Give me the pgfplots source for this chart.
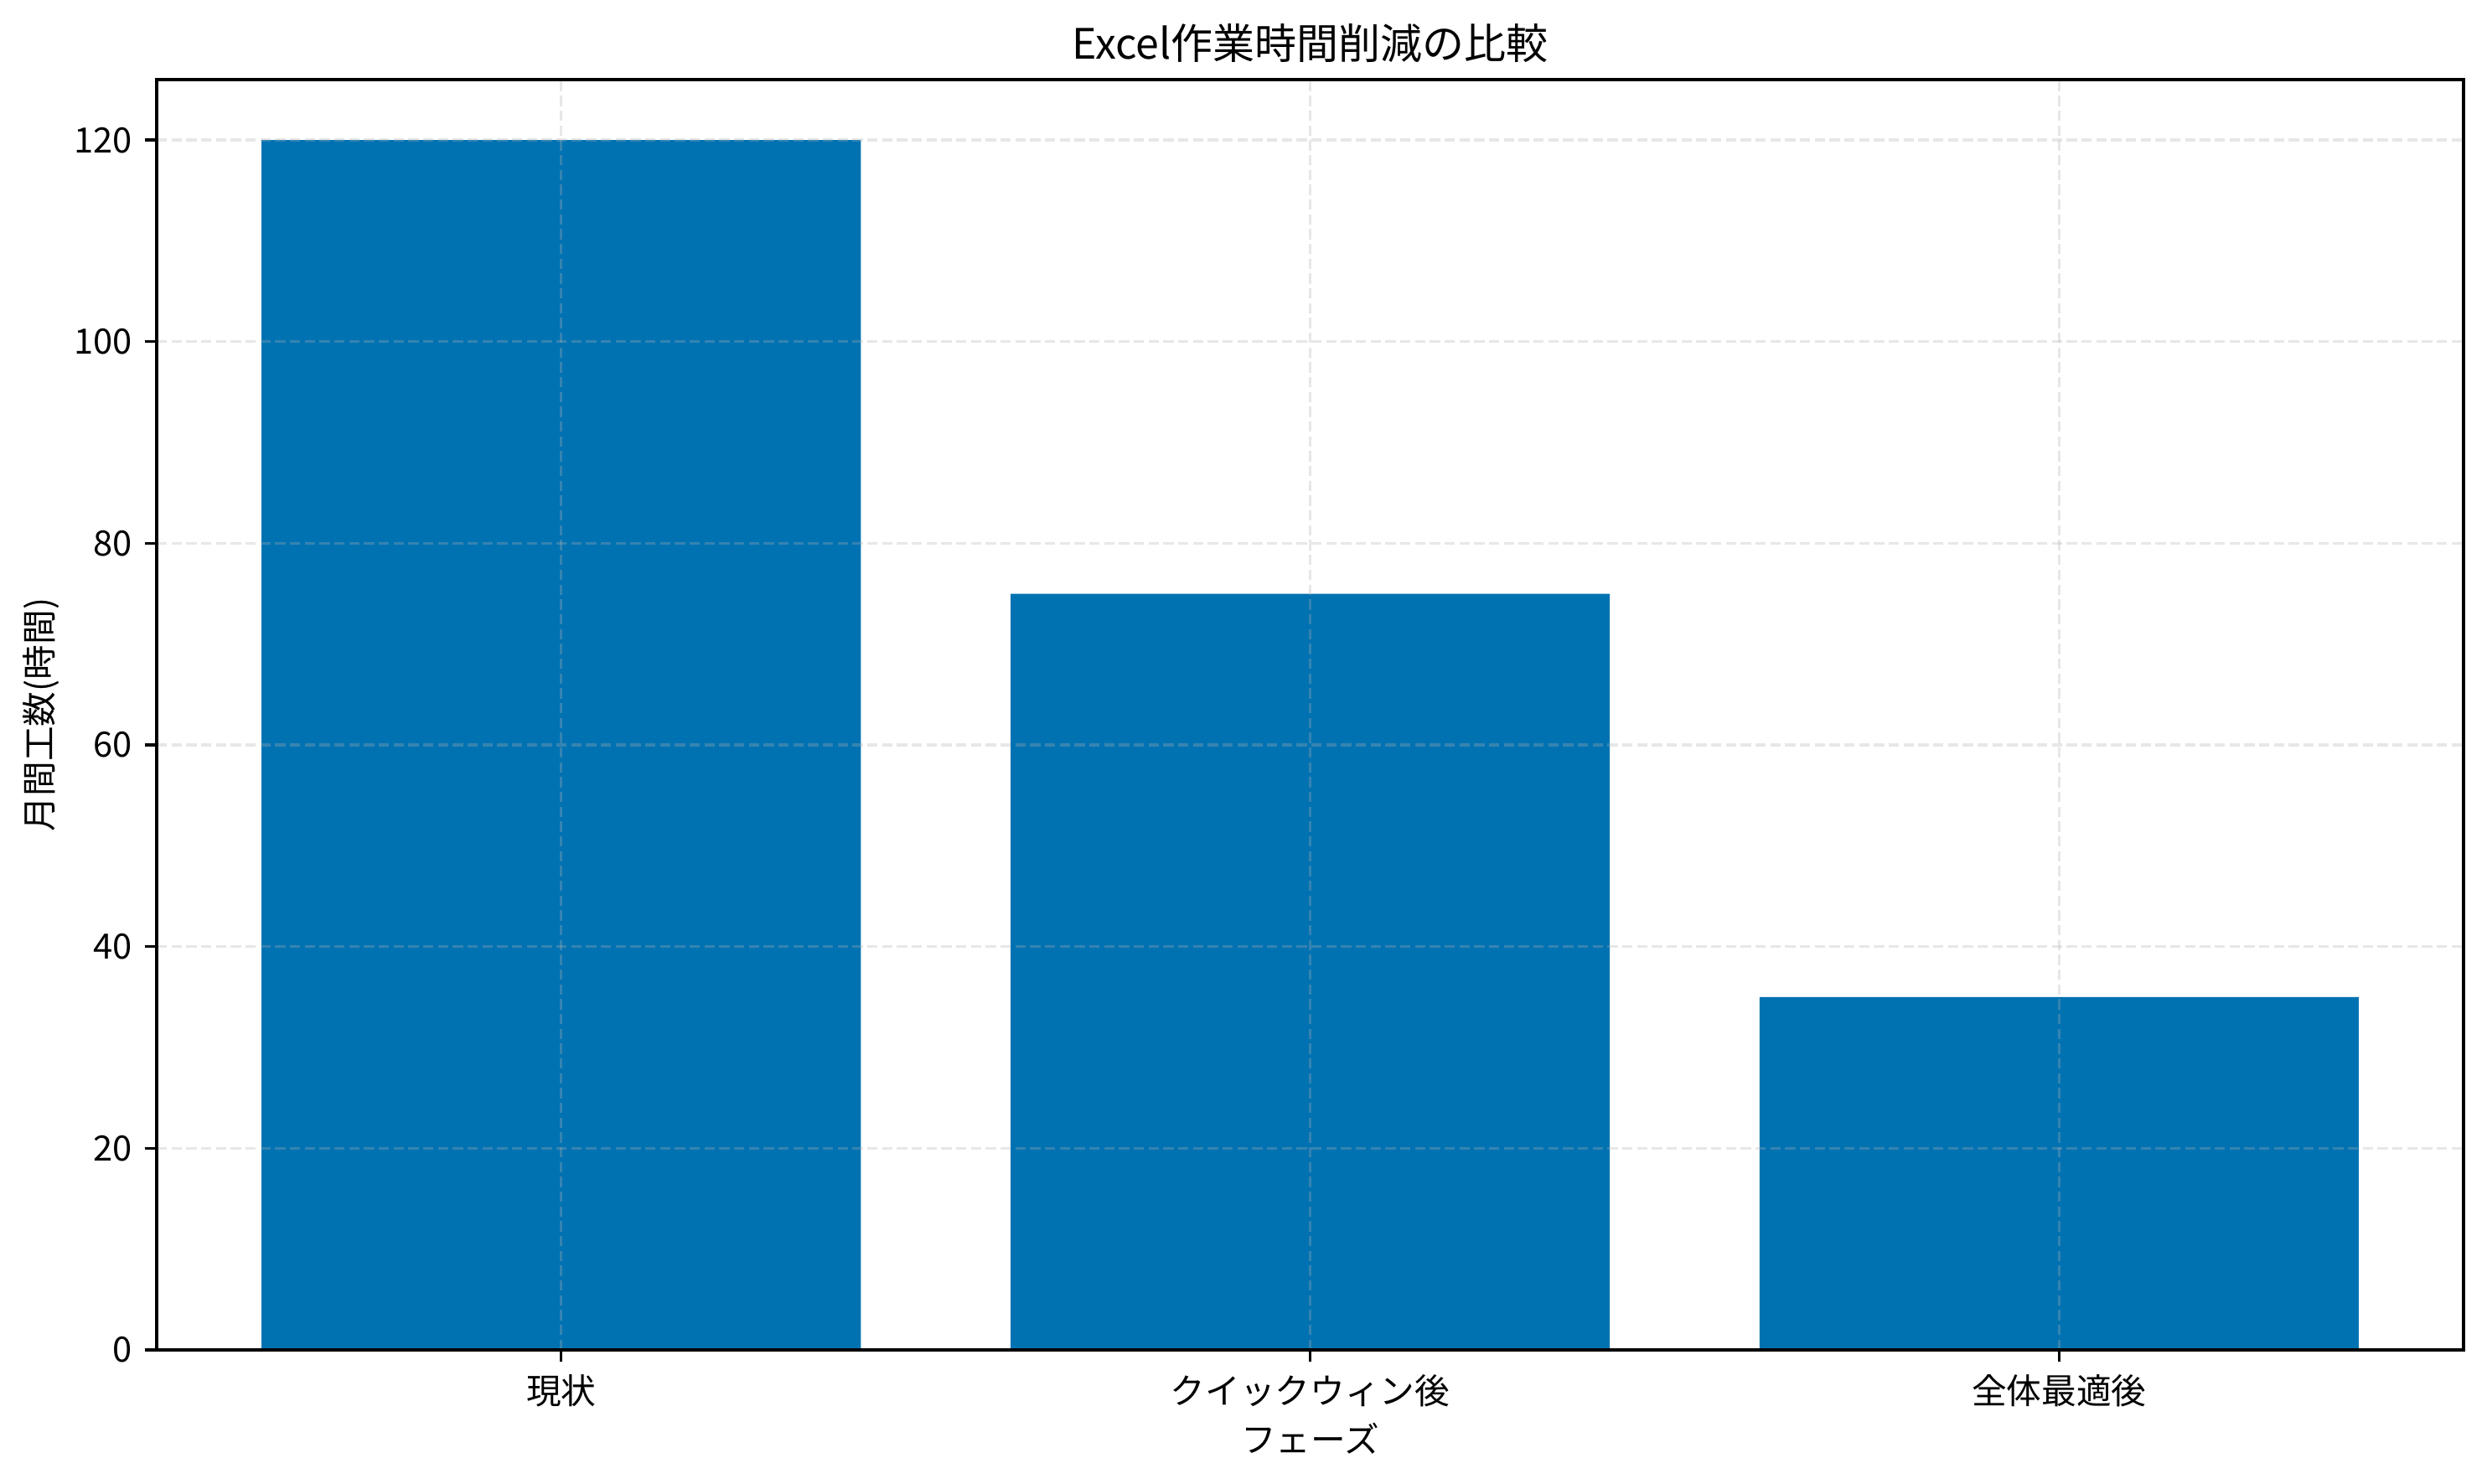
\documentclass[border=0pt]{standalone}
\usepackage{pgfplots}
\pgfplotsset{compat=1.18}
\usepackage{fontspec}
\setmainfont{Noto Sans CJK JP}
\definecolor{barblue}{RGB}{0,114,178}
\definecolor{gridgray}{RGB}{176,176,176}
\begin{document}
\begin{tikzpicture}
\useasboundingbox (0,0) rectangle (712.3pt,425pt);
\begin{axis}[
  at={(44.9pt,38.4pt)}, anchor=south west,
  scale only axis, width=660.7pt, height=363.8pt,
  xmin=-0.54, xmax=2.54, ymin=0, ymax=126,
  xtick={0,1,2}, xticklabels={現状,クイックウィン後,全体最適後},
  ytick={0,20,40,60,80,100,120},
  tick pos=left, tick align=outside, major tick length=3.5pt,
  every tick/.style={line width=0.8pt, black},
  axis line style={line width=0.8pt},
  /pgf/number format/assume math mode=true,
  ticklabel style={font=\fontsize{10}{12}\selectfont},
  grid=major,
  major grid style={dash pattern=on 2.96pt off 1.28pt, line width=0.8pt, color=gridgray, opacity=0.3},
  axis on top,
  every axis title shift=0pt,
  title={Excel作業時間削減の比較},
  title style={at={(axis description cs:0.5,1.0289)}, anchor=center, font=\fontsize{12}{14}\selectfont},
  xlabel={フェーズ},
  xlabel style={at={(axis description cs:0.5,-0.0698)}, anchor=center, font=\fontsize{10}{12}\selectfont},
  ylabel={月間工数(時間)},
  ylabel style={at={(axis description cs:-0.05,0.5)}, rotate=0, anchor=center, font=\fontsize{10}{12}\selectfont},
]
\addplot[ybar, bar width=0.8, fill=barblue, draw=none] coordinates {(0,120) (1,75) (2,35)};
\end{axis}
\end{tikzpicture}
\end{document}
